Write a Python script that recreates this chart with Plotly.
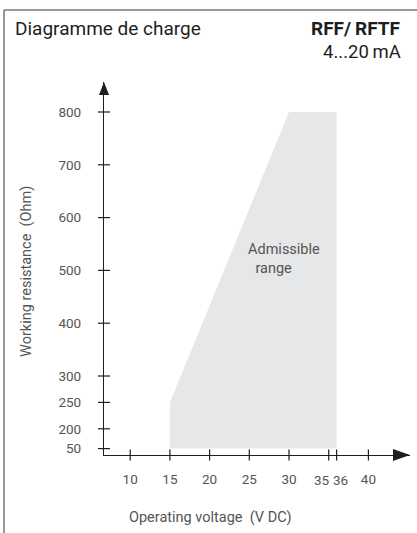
import plotly.graph_objects as go

# ---------------- data ----------------
voltage_ticks = [10, 15, 20, 25, 30, 35, 36, 40]
voltage_labels = ["10", "15", "20", "25", "30", "35", "36", "40"]
resistance_ticks = [50, 200, 250, 300, 400, 500, 600, 700, 800]
resistance_labels = ["50", "200", "250", "300", "400", "500", "600", "700", "800"]
region_voltage = [15, 15, 30, 36, 36]
region_resistance = [50, 250, 800, 800, 50]
label_voltage = 29.4
label_resistance = 522

# labels of the two crowded ticks are nudged apart (pixels)
crowded_ticks = {35: -7, 36: 4}

# ---------------- axis scale (broken below 200) ----------------
BREAK = 200
FACTOR = 0.25


def ty(v):
    return v if v >= BREAK else BREAK - (BREAK - v) * FACTOR


W, H = 417, 533
ML, MR, MT, MB = 104, 7, 82, 78
PW, PH = W - ML - MR, H - MT - MB
X_RANGE = [6.7, 45.24]
Y_RANGE = [150.4, 856.8]

FONT = "Roboto"
GRAY = "#555555"
DARK = "#1e1e1e"


def px_x(p):
    return (p - ML) / PW


def px_y(p):
    return (H - MB - p) / PH


fig = go.Figure()

fig.add_trace(go.Scatter(
    x=region_voltage,
    y=[ty(v) for v in region_resistance],
    fill="toself",
    fillcolor="#e6e7e8",
    line=dict(width=0, color="#e6e7e8"),
    mode="lines",
    hoverinfo="skip",
    showlegend=False,
))

shapes = []
# crossing tick marks
for v in resistance_ticks:
    shapes.append(dict(type="line", xref="paper", yref="y", xsizemode="pixel",
                       xanchor=0, x0=-6, x1=6, y0=ty(v), y1=ty(v),
                       line=dict(color=DARK, width=1.2)))
for v in voltage_ticks:
    shapes.append(dict(type="line", xref="x", yref="paper", ysizemode="pixel",
                       yanchor=0, y0=-5.5, y1=5.5, x0=v, x1=v,
                       line=dict(color=DARK, width=1.2)))
# arrowheads
shapes.append(dict(type="path", xref="paper", yref="paper", xsizemode="pixel", ysizemode="pixel",
                   xanchor=1, yanchor=0,
                   path="M 0,0 L -17,6 L -17,-6 Z", fillcolor=DARK, line=dict(width=0)))
shapes.append(dict(type="path", xref="paper", yref="paper", xsizemode="pixel", ysizemode="pixel",
                   xanchor=0, yanchor=1,
                   path="M 0,0 L -5,-13 L 5,-13 Z", fillcolor=DARK, line=dict(width=0)))
# frame
shapes.append(dict(type="line", xref="paper", yref="paper",
                   x0=px_x(4), x1=px_x(418), y0=px_y(10), y1=px_y(10),
                   line=dict(color="#333333", width=1)))
shapes.append(dict(type="line", xref="paper", yref="paper",
                   x0=px_x(4), x1=px_x(4), y0=px_y(10), y1=px_y(534),
                   line=dict(color="#333333", width=1)))

annotations = [
    dict(text="Diagramme de charge", xref="paper", yref="paper", x=px_x(13), y=px_y(29),
         xanchor="left", yanchor="middle", showarrow=False,
         font=dict(family=FONT, size=19, color=DARK)),
    dict(text="<b>RFF/\u2009RFTF</b>", xref="paper", yref="paper", x=px_x(403), y=px_y(29),
         xanchor="right", yanchor="middle", showarrow=False,
         font=dict(family=FONT, size=19, color=DARK)),
    dict(text="4...20\u2009mA", xref="paper", yref="paper", x=px_x(403), y=px_y(52),
         xanchor="right", yanchor="middle", showarrow=False,
         font=dict(family=FONT, size=18.5, color=DARK)),
    dict(text="Operating voltage\u00a0\u00a0(V DC)", xref="paper", yref="paper",
         x=px_x(210), y=px_y(517), xanchor="center", yanchor="middle", showarrow=False,
         font=dict(family=FONT, size=14.5, color=GRAY)),
    dict(text="Working resistance\u00a0\u00a0(Ohm)", xref="paper", yref="paper",
         x=px_x(26), y=px_y(272), xanchor="center", yanchor="middle", showarrow=False,
         textangle=-90, font=dict(family=FONT, size=14.5, color=GRAY)),
    dict(text="Admissible<br>\u2002range", xref="x", yref="y", align="left",
         x=label_voltage, y=ty(label_resistance), xanchor="center", yanchor="middle",
         showarrow=False, font=dict(family=FONT, size=14.5, color=GRAY)),
]

# x tick labels: regular ones via the axis, crowded ones as nudged annotations
axis_ticktext = []
for v, lab in zip(voltage_ticks, voltage_labels):
    if v in crowded_ticks:
        axis_ticktext.append("")
        annotations.append(dict(text=lab, xref="x", yref="paper", x=v, y=px_y(479.5),
                                xshift=crowded_ticks[v], xanchor="center", yanchor="middle",
                                showarrow=False, font=dict(family=FONT, size=13.5, color=GRAY)))
    else:
        axis_ticktext.append(lab)

fig.update_layout(
    width=W, height=H,
    margin=dict(l=ML, r=MR, t=MT, b=MB),
    paper_bgcolor="white", plot_bgcolor="white",
    showlegend=False,
    shapes=shapes,
    annotations=annotations,
    xaxis=dict(range=X_RANGE, showgrid=False, zeroline=False,
               showline=True, linecolor=DARK, linewidth=1.2,
               tickmode="array", tickvals=voltage_ticks, ticktext=axis_ticktext,
               ticks="outside", ticklen=12, tickcolor="rgba(0,0,0,0)", tickangle=0,
               tickfont=dict(family=FONT, size=13.5, color=GRAY), fixedrange=True),
    yaxis=dict(range=Y_RANGE, showgrid=False, zeroline=False,
               showline=True, linecolor=DARK, linewidth=1.2,
               tickmode="array", tickvals=[ty(v) for v in resistance_ticks],
               ticktext=resistance_labels,
               ticks="outside", ticklen=19, tickcolor="rgba(0,0,0,0)",
               tickfont=dict(family=FONT, size=13.5, color=GRAY), fixedrange=True),
)

fig.write_html("out.html", config={"displayModeBar": False},
               post_script="document.body.style.margin='0px';document.body.style.overflow='hidden';")
